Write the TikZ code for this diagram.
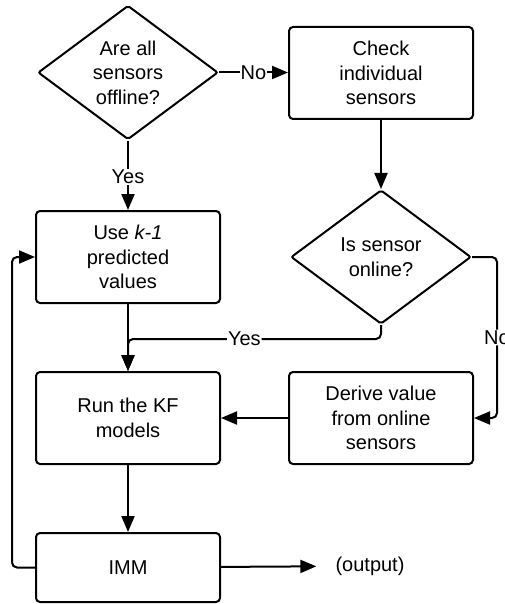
\documentclass[tikz,border=0pt]{standalone}
\usepackage{fontspec}
\setmainfont{Liberation Sans}
\usetikzlibrary{shapes.geometric,arrows.meta}

\tikzset{
  flow/.style={line width=2pt},
  arr/.style={flow, -{Triangle[length=16pt,width=13pt]}},
  procbox/.style={draw, line width=2pt, rounded corners=4pt,
    minimum width=184pt, minimum height=92pt, align=center, inner sep=2pt,
    font=\fontsize{20pt}{24.5pt}\selectfont},
  decision/.style={diamond, draw, line width=2pt, rounded corners=2pt,
    aspect=1.333, minimum width=180pt, minimum height=134pt, inner sep=0pt,
    align=center, font=\fontsize{20pt}{24.5pt}\selectfont},
  lbl/.style={fill=white, inner sep=1pt, font=\fontsize{20pt}{24pt}\selectfont},
}

\begin{document}
\begin{tikzpicture}[x=1pt,y=-1pt]
  \useasboundingbox (0,0) rectangle (505,604);

  % decisions
  \node[decision] (alloff) at (128,72.5) {Are all\\sensors\\offline?};
  \node[decision] (online) at (381,257) {Is sensor\\online?};

  % processes
  \node[procbox] (check) at (381,73) {Check\\individual\\sensors};
  \node[procbox] (prev)  at (128,257) {Use \textit{k-1}\\predicted\\values};
  \node[procbox] (run)   at (128,418) {Run the KF\\models};
  \node[procbox] (derive) at (381,418) {Derive value\\from online\\sensors};
  \node[procbox, minimum height=69pt] (imm) at (128,567.5) {IMM};
  \node[inner sep=0pt, font=\fontsize{20pt}{24pt}\selectfont] (out) at (370,566) {(output)};

  % connectors
  \draw[arr] (alloff.east) -- node[lbl, pos=0.5]{No} (alloff.east -| check.west);
  \draw[arr] (alloff) -- node[lbl, pos=0.52]{Yes} (prev);
  \draw[arr] (check) -- (online);
  \draw[arr] (prev) -- (run);
  \draw[arr, rounded corners=5pt] (online.south) -- ++(0,14)
    -| node[lbl, pos=0.27]{Yes} (run.north);
  \draw[arr, rounded corners=5pt] (online.east) -- ++(25,0)
    |- node[lbl, pos=0.25]{No} (derive.east);
  \draw[arr] (derive) -- (run);
  \draw[arr] (run) -- (imm);
  \draw[arr, shorten >=19pt] (imm) -- (out);
  \draw[arr, rounded corners=5pt] (imm.west) -- ++(-23,0) |- (prev.west);
\end{tikzpicture}
\end{document}
